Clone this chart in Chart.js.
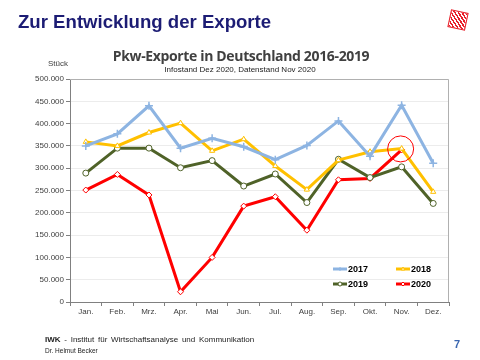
<!DOCTYPE html>
<html>
<head>
<meta charset="utf-8">
<script src="https://cdn.jsdelivr.net/npm/chart.js@4/dist/chart.umd.min.js"></script>
<style>
  body { margin: 0; background: #fff; }
  #page { position: relative; width: 480px; height: 360px; overflow: hidden; font-family: "Liberation Sans", Arial, sans-serif; }
  #page canvas { position: absolute; left: 0; top: 0; }
  .txt { position: absolute; white-space: nowrap; }
  #head { left: 18px; top: 11px; font-size: 18.6px; font-weight: bold; color: #1c1c74; }
  #logo { left: 449px; top: 11px; width: 16px; height: 16px; transform: rotate(12deg);
          background: repeating-linear-gradient(45deg, #e8202a 0 1.5px, #fff 1.5px 3px);
          border: 1px solid #e8202a; }
  #ctitle { left: 0; width: 482px; top: 46px; text-align: center; font-family: "Open Sans", sans-serif; font-weight: bold; font-size: 14px; color: #404040; letter-spacing: -0.35px; }
  #csub { left: 0; width: 480px; top: 65px; text-align: center; font-size: 8px; color: #222; }
  #unit { left: 48px; top: 59px; font-size: 8px; color: #404040; }
  #foot1 { left: 45px; top: 335px; font-size: 8px; color: #222; word-spacing: 1.5px; }
  #foot2 { left: 45px; top: 347px; font-size: 6.5px; color: #222; }
  #pnum { left: 454px; top: 338px; font-size: 11px; font-weight: bold; color: #3a66b0; }
</style>
</head>
<body>
<div id="page">
  <canvas id="lineChart" width="480" height="360"></canvas>
  <div class="txt" id="head">Zur Entwicklung der Exporte</div>
  <div class="txt" id="logo"></div>
  <div class="txt" id="ctitle">Pkw-Exporte in Deutschland 2016-2019</div>
  <div class="txt" id="csub">Infostand Dez 2020, Datenstand Nov 2020</div>
  <div class="txt" id="unit">Stück</div>
  <div class="txt" id="foot1"><b>IWK</b> - Institut für Wirtschaftsanalyse und Kommunikation</div>
  <div class="txt" id="foot2">Dr. Helmut Becker</div>
  <div class="txt" id="pnum">7</div>
</div>
<script>
const months = ['Jan.', 'Feb.', 'Mrz.', 'Apr.', 'Mai', 'Jun.', 'Jul.', 'Aug.', 'Sep.', 'Okt.', 'Nov.', 'Dez.']
const years = ['2017', '2018', '2019', '2020']
const exp2017 = [350000, 377000, 440000, 345000, 367000, 348000, 319000, 351000, 406000, 327000, 441000, 311000]
const exp2018 = [359000, 350000, 380000, 401000, 339000, 365000, 305000, 252000, 318000, 337000, 344000, 247000]
const exp2019 = [289000, 345000, 345000, 301000, 317000, 260000, 287000, 223000, 320000, 279000, 303000, 221000]
const exp2020 = [251000, 286000, 240000, 23000, 100000, 215000, 236000, 161000, 274000, 277000, 341000, null]
const yTicks = [0, 50000, 100000, 150000, 200000, 250000, 300000, 350000, 400000, 450000, 500000]

const colors = ['#8db4e2', '#ffc000', '#4f6228', '#ff0000']
const markers = ['cross', 'triangle', 'circle', 'rectRot']
const series = [exp2017, exp2018, exp2019, exp2020]

function fmt(v)
{
    return String(v).replace(/\B(?=(\d{3})+(?!\d))/g, '.')
}

const datasets = series.map((d, i) => ({
    label: years[i],
    data: d,
    borderColor: colors[i],
    borderWidth: 3,
    backgroundColor: colors[i],
    pointStyle: markers[i],
    pointRadius: i == 0 ? 4 : 3,
    pointBackgroundColor: '#fff',
    pointBorderColor: colors[i],
    pointBorderWidth: i == 0 ? 1.5 : 1,
    tension: 0,
    spanGaps: false
}))

// frame on top/right of plot area
const frame = {
    id: 'frame',
    beforeDatasetsDraw(chart) {
        const a = chart.chartArea, c = chart.ctx
        c.save()
        c.strokeStyle = '#b0b0b0'
        c.lineWidth = 1
        c.beginPath()
        c.moveTo(a.left, a.top + 0.5)
        c.lineTo(a.right - 0.5, a.top + 0.5)
        c.lineTo(a.right - 0.5, a.bottom)
        c.stroke()
        c.restore()
    }
}

// red ring round Nov 2020, plus the legend box inside the plot
const extras = {
    id: 'extras',
    afterDatasetsDraw(chart) {
        const c = chart.ctx
        const pt = chart.getDatasetMeta(3).data[10]
        c.save()
        c.strokeStyle = '#ff0000'
        c.lineWidth = 1
        c.beginPath()
        c.arc(pt.x - 1, pt.y - 1, 13, 0, Math.PI * 2)
        c.stroke()

        const pos = [[333, 269], [396, 269], [333, 284], [396, 284]]
        chart.data.datasets.forEach((ds, i) => {
            const [x, y] = pos[i]
            c.strokeStyle = ds.borderColor
            c.lineWidth = 3
            c.beginPath()
            c.moveTo(x, y)
            c.lineTo(x + 14, y)
            c.stroke()
            c.fillStyle = '#fff'
            c.lineWidth = 1
            Chart.helpers.drawPoint(c, {
                pointStyle: ds.pointStyle, radius: 2, rotation: 0,
                borderWidth: 1
            }, x + 7, y)
            c.fillStyle = '#000'
            c.font = 'bold 9px "Liberation Sans", Arial'
            c.textBaseline = 'middle'
            c.fillText(ds.label, x + 15, y + 0.5)
        })
        c.restore()
    }
}

const myChart = new Chart('lineChart', {
    type: 'line',
    data: { labels: months, datasets: datasets },
    plugins: [frame, extras],
    options: {
        responsive: false,
        animation: false,
        layout: { padding: { left: 20, right: 31, top: 79, bottom: 38 } },
        plugins: { legend: { display: false }, tooltip: { enabled: false } },
        scales: {
            x: {
                offset: true,
                afterFit(s) { s.height = 20 },
                grid: { drawOnChartArea: false, drawTicks: true, tickLength: 4, offset: true, tickColor: '#808080' },
                border: { color: '#808080' },
                ticks: { padding: 1, color: '#404040', font: { family: '"Liberation Sans", Arial', size: 8 } }
            },
            y: {
                min: 0,
                max: 500000,
                afterFit(s) { s.width = 50 },
                afterBuildTicks(s) { s.ticks = yTicks.map(v => ({ value: v })) },
                grid: { color: '#ececec', tickLength: 4, tickColor: '#808080' },
                border: { color: '#808080' },
                ticks: { padding: 2, color: '#404040', font: { family: '"Liberation Sans", Arial', size: 8 }, callback: v => fmt(v) }
            }
        }
    }
})
</script>
</body>
</html>
